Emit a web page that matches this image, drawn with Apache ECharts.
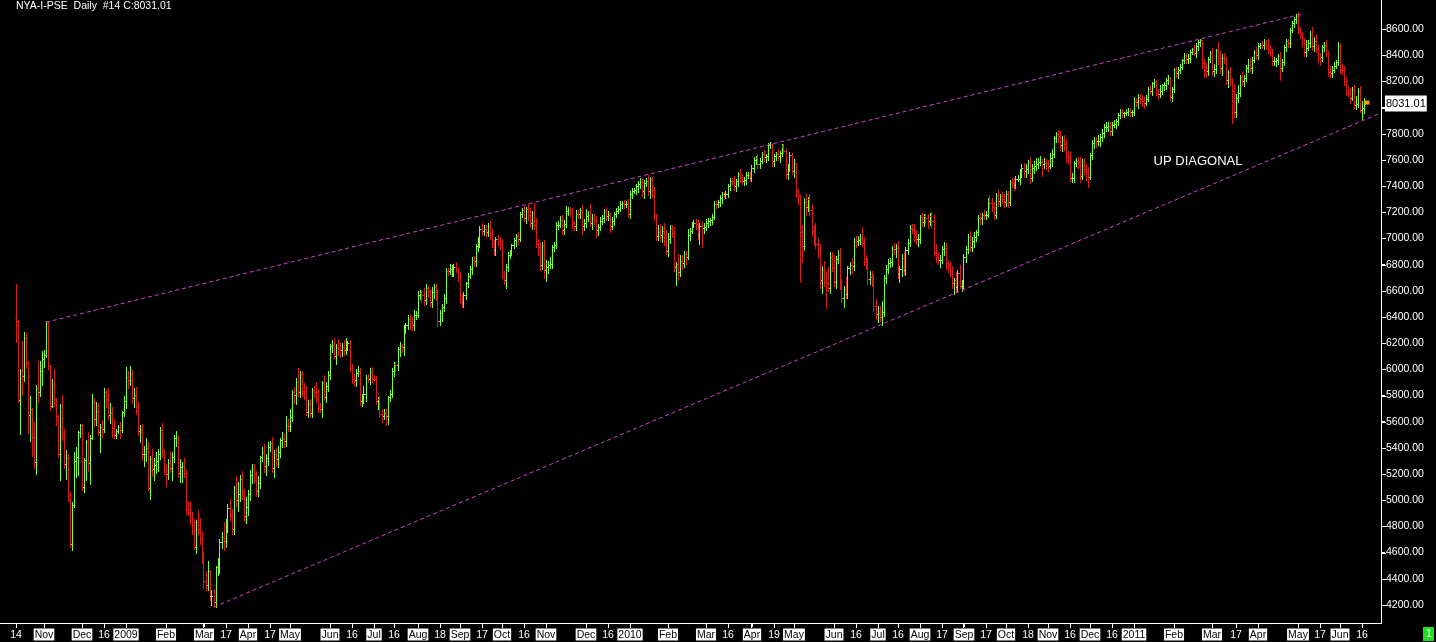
<!DOCTYPE html>
<html><head><meta charset="utf-8">
<script src="https://cdn.jsdelivr.net/npm/echarts@6.0.0/dist/echarts.min.js"></script>
<style>html,body{margin:0;padding:0;background:#000;overflow:hidden}#c{width:1436px;height:642px}</style>
</head><body><div id="c"></div>
<script>
// ---------- DATA (NYSE Composite, daily) ----------
const titleText = 'NYA-I-PSE  Daily  #14 C:8031.01';
const lastLabel = '8031.01';
const noteText = 'UP DIAGONAL';
const notePos = ['2011-02-17', 7592];
const firstOpen = 6400;

// closes 2008 (Oct 14 .. Dec 31)
const c08 = [6370,5765,5990,5950,6240,6050,5650,5700,5480,5290,5860,5830,5990,6080,
 6107,6357,6022,5719,5884,5773,5645,5352,5723,5484,5275,5326,5001,4665,4960,5298,5333,5521,5574,
 5101,5305,5442,5283,5476,5749,5617,5683,5521,5560,5542,5826,5770,5648,5665,5552,5499,5531,5560,5538,5673,5757];
const u08 = [252,7,10,226,48,35,10,100,5,120,20,200,70,60,
 40,10,5,10,40,120,10,5,10,80,60,60,30,60,25,70,70,10,10,
 10,15,20,80,20,60,30,70,60,20,50,30,20,90,80,50,70,10,15,40,10,40];
const d08 = [159,12,259,146,40,40,139,200,140,40,90,80,30,110,
 60,15,20,30,10,50,70,20,200,20,30,110,10,20,45,10,120,140,40,
 25,40,150,60,160,10,50,40,20,150,60,20,60,30,60,70,20,20,20,60,20,30];

// closes 2009
const c09 = [5945,5917,5963,5784,5804,5680,5527,5536,5350,5357,5398,5097,5318,5238,5266,5296,5353,5533,5350,5228,
 5200,5283,5243,5329,5472,5480,5211,5252,5263,5209,4933,4928,4868,4813,4646,4832,4781,4705,4594,
 4380,4352,4456,4266,4271,4226,4490,4502,4684,4721,4689,4840,4941,4876,4780,5102,4998,5046,5164,5059,4883,4947,
 5045,5190,5240,5197,5073,5133,5328,5367,5259,5326,5408,5435,5244,5356,5314,5367,5457,5471,5456,5574,5568,
 5634,5824,5802,5903,5825,5965,5837,5832,5675,5734,5668,5840,5830,5800,5703,5695,5899,5787,5876,5956,
 6176,6188,6103,6173,6158,6151,6173,6151,6189,6198,6004,5927,5920,5970,5988,5760,5773,5811,5936,5927,5980,5930,
 5928,5755,5770,5656,5647,5667,5644,5785,5815,5988,6039,6037,6154,6176,6173,6317,6336,6384,6367,6338,6414,6419,
 6567,6587,6568,6531,6619,6596,6513,6588,6633,6577,6368,6433,6477,6548,6752,6748,6764,6765,6784,6770,6716,
 6537,6516,6571,6657,6716,6769,6839,6830,6946,6968,7075,7054,7072,7048,7095,7023,6956,6914,6994,6979,6956,
 6715,6684,6784,6877,6895,6947,6986,7017,6997,7185,7216,7157,7224,7180,7116,7191,7104,6956,6933,6798,6951,6756,
 6779,6795,6802,6933,6950,7105,7105,7140,7067,7108,7210,7217,7214,7117,7094,7190,7187,7219,7095,7121,
 7175,7177,7116,7155,7138,7065,7091,7132,7158,7208,7168,7177,7092,7133,7186,7211,7228,7266,7274,7264,7265,7185];
const u09 = [75,40,60,30,50,60,70,40,50,60,80,50,20,70,60,70,40,30,60,40,
 50,30,90,40,30,50,20,60,30,60,20,60,60,40,40,20,90,80,60,
 10,80,80,10,40,50,10,60,20,40,110,20,30,70,60,10,80,90,30,60,30,80,
 30,40,40,40,30,50,10,40,60,30,40,20,50,30,40,50,20,50,40,70,50,
 60,20,40,30,110,20,20,60,40,30,40,20,30,70,50,40,10,60,30,30,
 20,40,50,20,60,40,30,50,50,20,30,40,40,30,40,20,40,60,20,30,30,40,
 30,20,20,30,40,30,30,10,30,20,20,20,20,30,20,20,20,30,40,30,40,30,
 30,20,20,50,30,20,20,40,20,20,30,20,20,30,20,20,40,30,20,40,10,
 30,40,20,10,20,20,20,30,10,40,20,40,30,30,20,40,50,30,20,30,30,
 40,40,20,20,20,10,20,20,30,20,20,30,14,40,50,20,80,50,40,40,20,40,
 60,30,60,20,20,20,30,30,40,30,40,20,20,20,20,30,30,10,40,30,
 50,30,90,30,30,30,20,30,20,20,30,30,20,30,20,20,20,20,10,20,20,40];
const d09 = [50,60,40,40,70,20,30,80,40,90,60,20,90,50,80,60,70,40,20,30,
 90,40,30,90,40,60,30,70,110,30,40,40,50,70,20,50,40,40,70,
 50,40,40,30,66,41,40,60,60,50,70,50,80,30,40,40,40,80,50,50,40,60,
 60,40,60,60,40,40,40,30,40,70,60,30,30,70,50,60,40,50,50,40,40,
 40,30,60,70,30,40,40,60,20,40,30,30,40,50,30,20,60,20,40,40,
 30,40,20,60,50,60,50,40,30,40,20,30,40,50,20,30,40,30,50,20,40,30,
 20,20,60,20,50,30,70,60,30,30,40,50,40,50,40,60,40,30,60,40,40,30,
 20,30,50,40,30,40,30,40,40,50,40,30,60,30,40,30,20,50,50,30,40,
 30,40,40,30,30,20,40,40,40,40,30,30,30,40,30,30,20,40,40,30,40,
 20,30,60,30,30,20,20,40,40,20,20,20,40,40,30,40,30,20,60,40,30,60,
 80,40,20,30,30,20,30,20,30,30,20,30,40,40,30,30,30,30,60,30,
 30,40,20,40,30,50,40,30,20,30,30,30,40,20,30,20,20,20,30,30,20,20];

// closes 2010
const c10 = [7342,7365,7368,7398,7419,7432,7363,7424,7442,7361,7453,7374,7179,7020,7052,7023,7057,6973,6905,
 6993,7083,7045,6783,6802,6742,6830,6814,6881,6862,7029,7059,7105,7121,7113,7027,7095,7081,7091,
 7118,7135,7138,7165,7265,7263,7276,7309,7338,7337,7340,7398,7440,7438,7400,7438,7491,7450,7437,7443,7485,7486,7461,
 7540,7599,7612,7568,7593,7644,7622,7627,7712,7718,7594,7628,7642,7633,7651,7705,7672,7493,7542,7639,7512,
 7574,7335,7322,7051,6943,7280,7240,7300,7220,7060,7050,6960,6920,6680,6760,6670,6660,6620,6860,6780,
 6670,6843,6870,6634,6545,6616,6577,6771,6800,6788,6981,6977,6986,6995,6969,6824,6803,6689,6708,6695,6487,6421,
 6432,6402,6436,6701,6764,6813,6818,6922,6921,6930,6730,6770,6848,6760,6912,6969,7080,7073,7024,6995,6995,
 7161,7126,7169,7160,7133,7173,7130,6897,6859,6832,6833,6916,6926,6809,6784,6757,6659,6680,6629,6739,6640,6642,
 6860,6922,7014,6933,6978,7012,7046,7158,7153,7178,7176,7181,7290,7272,7237,7176,7329,7287,7322,7303,7281,
 7336,7277,7429,7424,7412,7457,7458,7487,7540,7512,7528,7582,7462,7540,7554,7572,7588,7588,7568,7576,7573,
 7556,7615,7643,7766,7796,7780,7717,7751,7718,7627,7618,7459,7460,7575,7594,7582,7474,7586,7529,7519,7473,
 7635,7732,7752,7742,7747,7775,7805,7852,7852,7859,7819,7868,7874,7894,7942,7968,7956,7960,7966,7975,7963,7964];
const u10 = [20,20,20,20,20,30,20,20,20,40,20,20,20,10,50,60,40,60,90,
 50,20,20,40,20,80,40,40,20,20,40,20,20,20,30,30,20,30,30,
 30,20,20,20,20,20,20,20,20,20,20,20,20,20,40,20,20,40,40,30,20,20,20,
 20,20,20,30,20,20,30,20,20,22,5,20,20,40,20,20,15,10,30,20,15,
 30,5,40,8,52,30,60,20,40,40,40,70,40,40,30,70,80,120,40,40,
 90,20,40,60,60,20,90,20,20,50,20,40,30,40,95,40,50,50,40,40,30,50,
 50,50,90,20,30,30,30,20,40,30,50,20,30,50,20,30,20,30,40,40,40,
 20,30,20,20,30,20,30,50,60,40,40,30,50,40,30,40,30,20,60,20,60,40,
 20,20,20,40,30,40,20,20,40,20,40,30,20,40,40,40,20,40,20,30,40,
 30,30,20,30,40,20,30,40,30,40,40,20,40,30,40,40,24,40,20,40,30,
 30,40,40,20,15,30,40,30,40,40,40,40,40,20,20,30,40,20,30,40,30,
 20,20,20,20,40,20,30,20,40,30,30,20,30,20,20,20,20,10,20,20,20,20];
const d10 = [30,30,20,30,40,30,40,50,20,30,50,60,40,30,30,40,50,20,20,
 40,30,30,30,140,50,30,50,30,60,20,40,20,20,40,30,70,150,40,
 30,30,30,30,20,30,20,30,40,20,30,20,30,30,30,40,40,20,20,30,30,20,20,
 20,30,30,30,30,20,30,40,30,20,40,40,30,30,50,20,20,30,40,30,20,
 40,20,60,381,120,30,60,30,40,40,100,30,60,60,100,30,195,20,40,30,
 30,50,30,20,30,70,30,30,40,50,30,40,30,30,30,30,40,40,40,60,40,40,
 57,30,60,30,40,30,30,30,40,60,30,60,60,30,40,30,30,30,40,40,50,
 30,30,30,40,50,30,50,30,40,30,50,20,40,40,40,40,40,80,28,40,20,40,
 20,40,30,30,30,40,30,20,40,40,30,30,20,40,30,30,20,40,40,30,40,
 30,40,20,30,40,30,20,40,20,40,40,30,40,20,40,30,30,30,90,30,40,
 40,20,60,20,30,40,40,50,40,40,40,20,30,30,20,40,40,20,40,70,80,
 20,30,40,40,30,40,30,30,30,30,30,30,20,30,30,20,30,30,20,20,30,30];

// closes 2011 (Jan 3 .. Jun 17)
const c11 = [8051,8040,8081,8063,8049,8037,8068,8140,8126,8186,8197,8114,8104,8124,8171,8173,8207,8226,8079,8141,
 8290,8267,8287,8311,8363,8398,8374,8381,8427,8447,8419,8472,8498,8515,8340,8289,8281,8368,8414,
 8282,8295,8438,8376,8306,8380,8369,8211,8269,8219,8127,7969,8075,8110,8232,8203,8226,8303,8329,8306,8365,8421,8405,
 8474,8477,8475,8494,8481,8447,8424,8358,8359,8360,8393,8300,8348,8461,8506,8492,8595,8649,8680,8700,
 8589,8560,8501,8424,8457,8495,8564,8469,8510,8441,8389,8386,8460,8478,8413,8275,8265,8290,8320,8345,8470,
 8295,8284,8204,8115,8108,8075,8134,8020,8025,8127,7985,7999,8031.01];
const u11 = [30,20,20,20,30,30,30,20,30,10,20,15,30,50,10,20,20,20,10,20,
 10,20,20,20,10,20,20,30,10,10,30,20,20,10,5,30,50,20,20,
 40,40,10,60,60,30,40,20,20,40,10,50,30,60,20,40,20,20,40,50,20,20,40,
 20,20,30,30,20,40,30,20,30,20,20,30,20,20,20,20,10,10,10,12,
 20,30,20,30,60,20,20,50,30,50,40,30,20,20,40,20,40,30,30,20,30,
 20,40,30,30,50,40,20,40,60,20,40,50,40];
const d11 = [20,30,40,30,40,40,20,20,20,30,30,20,40,20,20,40,30,30,20,30,
 20,30,40,20,20,20,30,30,30,20,20,30,30,30,40,53,50,30,20,
 30,40,30,40,40,60,30,30,50,50,242,40,40,30,20,30,40,20,30,30,40,20,30,
 30,20,20,30,30,30,30,30,30,40,30,90,20,20,30,30,30,20,30,30,
 20,30,30,30,30,20,30,30,40,20,40,60,30,30,20,30,30,30,20,20,20,
 30,30,30,20,20,40,20,20,30,20,20,73,40];

// calendar
const calStart = '2008-10-03', dataStart = '2008-10-14', calEnd = '2011-06-29';
const holidays = ['2008-11-27','2008-12-25','2009-01-01','2009-01-19','2009-02-16','2009-04-10','2009-05-25',
 '2009-07-03','2009-09-07','2009-11-26','2009-12-25','2010-01-01','2010-01-18','2010-02-15','2010-04-02',
 '2010-05-31','2010-07-05','2010-09-06','2010-11-25','2010-12-24','2011-01-17','2011-02-21','2011-04-22','2011-05-30'];

// x tick labels
const tickLabels = [['2008-10-14','14'],['2008-11-03','Nov'],['2008-12-01','Dec'],['2008-12-16','16'],
 ['2009-01-02','2009'],['2009-02-02','Feb'],['2009-03-02','Mar'],['2009-03-17','17'],['2009-04-01','Apr'],['2009-04-17','17'],
 ['2009-05-01','May'],['2009-06-01','Jun'],['2009-06-16','16'],['2009-07-01','Jul'],['2009-07-16','16'],['2009-08-03','Aug'],
 ['2009-08-18','18'],['2009-09-01','Sep'],['2009-09-17','17'],['2009-10-01','Oct'],['2009-10-16','16'],['2009-11-02','Nov'],
 ['2009-12-01','Dec'],['2009-12-16','16'],
 ['2010-01-04','2010'],['2010-02-01','Feb'],['2010-03-01','Mar'],['2010-03-16','16'],['2010-04-01','Apr'],['2010-04-19','19'],
 ['2010-05-03','May'],['2010-06-01','Jun'],['2010-06-16','16'],['2010-07-01','Jul'],['2010-07-16','16'],['2010-08-02','Aug'],
 ['2010-08-17','17'],['2010-09-01','Sep'],['2010-09-17','17'],['2010-10-01','Oct'],['2010-10-18','18'],['2010-11-01','Nov'],
 ['2010-11-16','16'],['2010-12-01','Dec'],['2010-12-16','16'],
 ['2011-01-03','2011'],['2011-02-01','Feb'],['2011-03-01','Mar'],['2011-03-17','17'],['2011-04-01','Apr'],['2011-05-02','May'],
 ['2011-05-17','17'],['2011-06-01','Jun'],['2011-06-16','16']];

// y axis ticks
const yTicks = [4200,4400,4600,4800,5000,5200,5400,5600,5800,6000,6200,6400,6600,6800,7000,7200,7400,7600,7800,8000,8200,8400,8600];
const yLabelSkip = [8000];
const yMin = 4062, yMax = 8822;

// trend lines (date, value)
const upperLine = [['2008-11-04', 6360], ['2011-05-04', 8715]];
const lowerLine = [['2009-03-09', 4185], ['2011-06-29', 7956]];

// ---------- BUILD ----------
const GREEN = '#7cff3a', RED = '#d81c1c', MAG = '#cc44cc';
function tradingDays(start, end, hol) {
  const hs = new Set(hol), out = [];
  let t = Date.parse(start + 'T00:00:00Z');
  const e = Date.parse(end + 'T00:00:00Z');
  while (t <= e) {
    const d = new Date(t), w = d.getUTCDay(), s = d.toISOString().slice(0, 10);
    if (w !== 0 && w !== 6 && !hs.has(s)) out.push(s);
    t += 86400000;
  }
  return out;
}
const cats = tradingDays(calStart, calEnd, holidays);
const off = cats.indexOf(dataStart);
const closes = [...c08, ...c09, ...c10, ...c11];
const ups = [...u08, ...u09, ...u10, ...u11];
const dns = [...d08, ...d09, ...d10, ...d11];
const ohlc = closes.map((c, k) => {
  const o = k ? closes[k - 1] : firstOpen;
  return [off + k, o, Math.max(o, c) + ups[k], Math.min(o, c) - dns[k], c];
});
const lastIdx = off + closes.length - 1;
const lastClose = closes[closes.length - 1];
const labelMap = new Map(tickLabels);
const showTick = (i, v) => labelMap.has(v);
const ci = d => cats.indexOf(d);
const fmtX = v => {
  const t = labelMap.get(typeof v === 'string' ? v : String(v));
  if (!t) return '';
  return (t.length <= 2) ? '{d|' + t + '}' : '{m|' + t + '}';
};
const fmtY = v => {
  const n = Number(typeof v === 'object' && v !== null ? v.value : v);
  return isFinite(n) ? n.toFixed(2) : '';
};

function makeGraphic(axisEls) {
  const g = [
    {type: 'rect', x: 1423, y: 627, shape: {x: 0, y: 0, width: 11, height: 14}, style: {fill: '#22dd22'}},
    {type: 'text', x: 1426, y: 628, style: {text: '1', fill: '#fff', font: '11px Liberation Sans'}}
  ];
  if (ups.length !== closes.length || dns.length !== closes.length)
    g.push({type: 'text', x: 300, y: 300, style: {text: 'LEN ' + closes.length + ' ' + ups.length + ' ' + dns.length, fill: 'red', font: '20px sans-serif'}});
  return g.concat(axisEls || []);
}

function makeOption(axisEls) {
  return {
    backgroundColor: '#000',
    animation: false,
    textStyle: {fontFamily: 'Liberation Sans, Arial, sans-serif'},
    title: {text: titleText, left: 16, top: 1, padding: 0,
      textStyle: {color: '#fff', fontSize: 10.5, fontWeight: 'normal', fontFamily: 'Liberation Sans'}},
    grid: {left: 1, right: 55, top: 0, bottom: 19, containLabel: false},
    xAxis: {
      type: 'category', data: cats, boundaryGap: true,
      axisLine: {show: true, onZero: false, lineStyle: {color: '#ffffff', width: 1}},
      axisTick: {show: true, interval: showTick, alignWithLabel: true, length: 4, lineStyle: {color: '#ffffff', width: 1}},
      axisLabel: {
        interval: showTick, margin: 6, color: '#fff', fontSize: 10.5, hideOverlap: false,
        formatter: fmtX,
        rich: {
          m: {backgroundColor: '#fff', color: '#000', fontSize: 10.5, lineHeight: 11, padding: [1, 1, 0, 1], fontFamily: 'Liberation Sans'},
          d: {color: '#fff', fontSize: 10.5, lineHeight: 11, padding: [1, 0, 0, 0], fontFamily: 'Liberation Sans'}
        }
      },
      splitLine: {show: false}
    },
    yAxis: {
      type: 'value', position: 'right', min: yMin, max: yMax,
      axisLine: {show: true, onZero: false, lineStyle: {color: '#ffffff', width: 1}},
      axisTick: {show: true, customValues: yTicks, length: 4, lineStyle: {color: '#ffffff', width: 1}},
      axisLabel: {customValues: yTicks.filter(v => !yLabelSkip.includes(v)), formatter: fmtY,
        color: '#fff', fontSize: 10.5, margin: 5, fontFamily: 'Liberation Sans'},
      splitLine: {show: false}
    },
    series: [
      {
        type: 'custom', name: 'NYA', clip: true,
        data: ohlc, encode: {x: 0, y: [1, 2, 3, 4]},
        renderItem: (params, api) => {
          const k = api.value(0), o = api.value(1), h = api.value(2), l = api.value(3), c = api.value(4);
          const pt = api.coord([k, h]), pb = api.coord([k, l]);
          const po = api.coord([k, o]), pc = api.coord([k, c]);
          const x = Math.floor(pt[0]);
          const yT = Math.round(pt[1]), yB = Math.round(pb[1]);
          const col = c >= o ? GREEN : RED;
          return {type: 'group', children: [
            {type: 'rect', shape: {x: x, y: yT, width: 1, height: Math.max(1, yB - yT + 1)}, style: {fill: col}},
            {type: 'rect', shape: {x: x - 1, y: Math.round(po[1]), width: 1, height: 1}, style: {fill: col}},
            {type: 'rect', shape: {x: x + 1, y: Math.round(pc[1]), width: 1, height: 1}, style: {fill: col}}
          ]};
        }
      },
      {
        type: 'line', data: [], silent: true,
        markLine: {
          silent: true, symbol: ['none', 'none'], animation: false,
          lineStyle: {color: MAG, type: [4, 3], width: 1},
          label: {show: false},
          data: [
            [{coord: [ci(upperLine[0][0]), upperLine[0][1]]}, {coord: [ci(upperLine[1][0]), upperLine[1][1]]}],
            [{coord: [ci(lowerLine[0][0]), lowerLine[0][1]]}, {coord: [ci(lowerLine[1][0]), lowerLine[1][1]]}]
          ]
        },
        markPoint: {
          silent: true, animation: false,
          data: [
            {coord: [ci(notePos[0]), notePos[1]], symbol: 'circle', symbolSize: 1, itemStyle: {color: 'rgba(0,0,0,0)'},
              label: {show: true, position: 'inside', formatter: noteText, color: '#fff', fontSize: 13, fontFamily: 'Liberation Sans'}},
            {coord: [lastIdx, lastClose], symbol: 'rect', symbolSize: [5, 4], symbolOffset: [3, -1],
              itemStyle: {color: '#ff9900'}, label: {show: false}}
          ]
        }
      },
      {
        type: 'line', data: [], silent: true, z: 5,
        markLine: {
          silent: true, symbol: ['none', 'none'], animation: false,
          lineStyle: {color: 'rgba(0,0,0,0)', width: 1, type: 'solid'},
          label: {show: true, position: 'end', distance: 4, formatter: lastLabel, color: '#000', backgroundColor: '#fff',
            padding: [3, 1, 2, 1], fontSize: 11, fontFamily: 'Liberation Sans'},
          data: [{yAxis: lastClose}]
        }
      }
    ],
    graphic: makeGraphic(axisEls)
  };
}

const chart = echarts.init(document.getElementById('c'), null, {renderer: 'canvas'});
chart.setOption(makeOption([]));

// axis lines and ticks placed through the chart's own scales, then a fresh full render
const yBottom = Math.round(chart.convertToPixel({yAxisIndex: 0}, yMin));
const yTop = Math.round(chart.convertToPixel({yAxisIndex: 0}, yMax));
const xRight = Math.round(chart.convertToPixel({xAxisIndex: 0}, cats.length - 1)) + 1;
const axisEls = [
  {type: 'rect', z: 100, zlevel: 1, shape: {x: 0, y: yBottom, width: xRight + 1, height: 1}, style: {fill: '#ffffff'}},
  {type: 'rect', z: 100, zlevel: 1, shape: {x: xRight, y: yTop, width: 1, height: yBottom - yTop + 1}, style: {fill: '#ffffff'}}
];
yTicks.forEach(v => {
  const py = Math.round(chart.convertToPixel({yAxisIndex: 0}, v));
  axisEls.push({type: 'rect', z: 100, zlevel: 1, shape: {x: xRight + 1, y: py, width: 4, height: 1}, style: {fill: '#ffffff'}});
});
tickLabels.forEach(([d]) => {
  const px = Math.floor(chart.convertToPixel({xAxisIndex: 0}, ci(d)));
  axisEls.push({type: 'rect', z: 100, zlevel: 1, shape: {x: px, y: yBottom + 1, width: 1, height: 4}, style: {fill: '#ffffff'}});
});
chart.setOption(makeOption(axisEls), true);
</script></body></html>
